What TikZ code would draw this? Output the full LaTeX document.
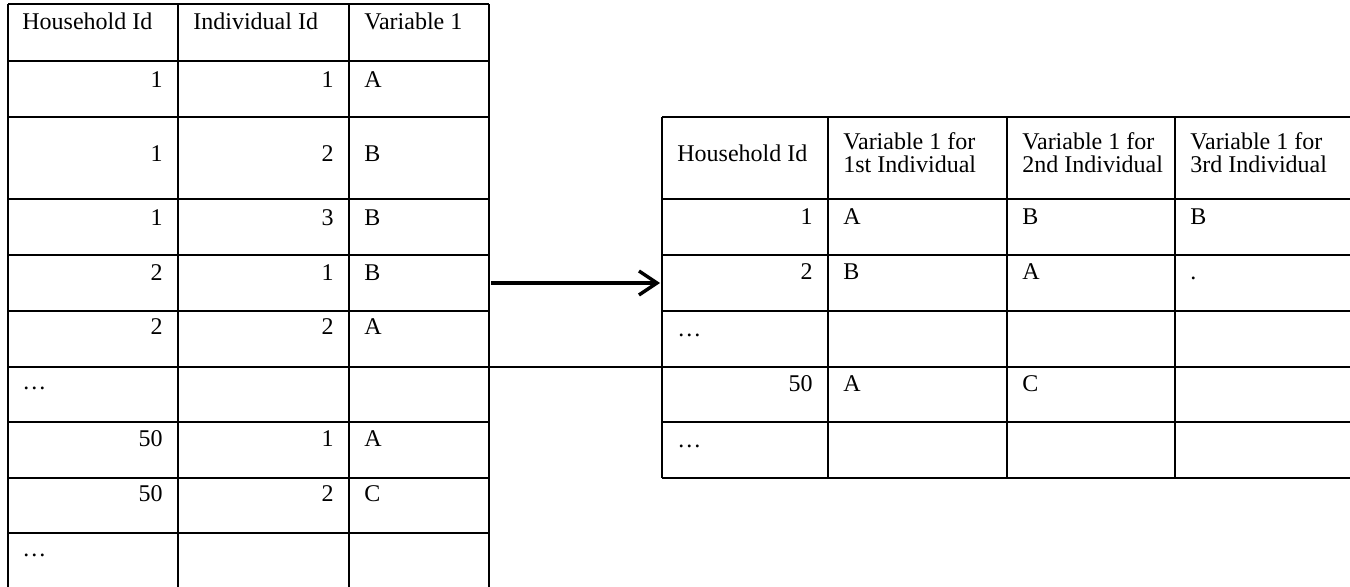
\documentclass[tikz,border=0pt]{standalone}
\usepackage{fontspec}
\setmainfont{Liberation Serif}
\usetikzlibrary{arrows.meta}
\begin{document}
\begin{tikzpicture}[x=0.5pt,y=-0.5pt,
    rule/.style={line width=1.05pt},
    cell/.style={inner sep=0pt,font=\fontsize{12}{11.5}\selectfont},
    num/.style={cell,anchor=base east},
    txt/.style={cell,anchor=base west},
    head/.style={cell,anchor=base west,align=left}]
  \useasboundingbox (0,0) rectangle (1350,587);

  % long table
  \foreach \x in {8,178,349,489} {
    \draw[rule] (\x,4) -- (\x,600);
  }
  \foreach \y in {4,61,117,199,255,311,422,478,533} {
    \draw[rule] (8,\y) -- (489,\y);
  }
  \node[txt] (lhh) at (22,30) {Household Id};
  \node[txt] (lhi) at (193,30) {Individual Id};
  \node[txt] (lhv) at (364,30) {Variable 1};
  \foreach \y/\h/\i/\v [count=\n] in {88/1/1/A, 162/1/2/B, 226/1/3/B,
      281/2/1/B, 335/2/2/A, 447/50/1/A, 502/50/2/C} {
    \node[num] (lh\n) at (163,\y) {\h};
    \node[num] (li\n) at (334,\y) {\i};
    \node[txt] (lv\n) at (364,\y) {\v};
  }
  \node[txt] (ldots1) at (22,390) {…};
  \node[txt] (ldots2) at (22,557) {…};

  % wide table
  \foreach \x in {662,828,1007,1175} {
    \draw[rule] (\x,117) -- (\x,478);
  }
  \foreach \y in {117,199,255,311,422,478} {
    \draw[rule] (662,\y) -- (1360,\y);
  }
  \draw[rule] (8,367) -- (1360,367);
  \node[txt] (whh) at (677,162) {Household Id};
  \node[head] (wh1) at (843,173) {Variable 1 for\\1st Individual};
  \node[head] (wh2) at (1022,173) {Variable 1 for\\2nd Individual};
  \node[head] (wh3) at (1190,173) {Variable 1 for\\3rd Individual};
  \foreach \y/\h/\a/\b/\c [count=\n] in {225/1/A/B/B, 280/2/B/A/.} {
    \node[num] (wh\n) at (813,\y) {\h};
    \node[txt] (wa\n) at (843,\y) {\a};
    \node[txt] (wb\n) at (1022,\y) {\b};
    \node[txt] (wc\n) at (1190,\y) {\c};
  }
  \node[num] (wh3) at (813,392) {50};
  \node[txt] (wa3) at (843,392) {A};
  \node[txt] (wb3) at (1022,392) {C};
  \node[txt] (wdots1) at (677,337) {…};
  \node[txt] (wdots2) at (677,448) {…};

  % reshape arrow
  \coordinate (arrtail) at (491,283);
  \coordinate (arrhead) at (660,283);
  \draw[line width=1.7pt,-{Straight Barb[length=9pt,width=12pt]}] (arrtail) -- (arrhead);
\end{tikzpicture}
\end{document}
